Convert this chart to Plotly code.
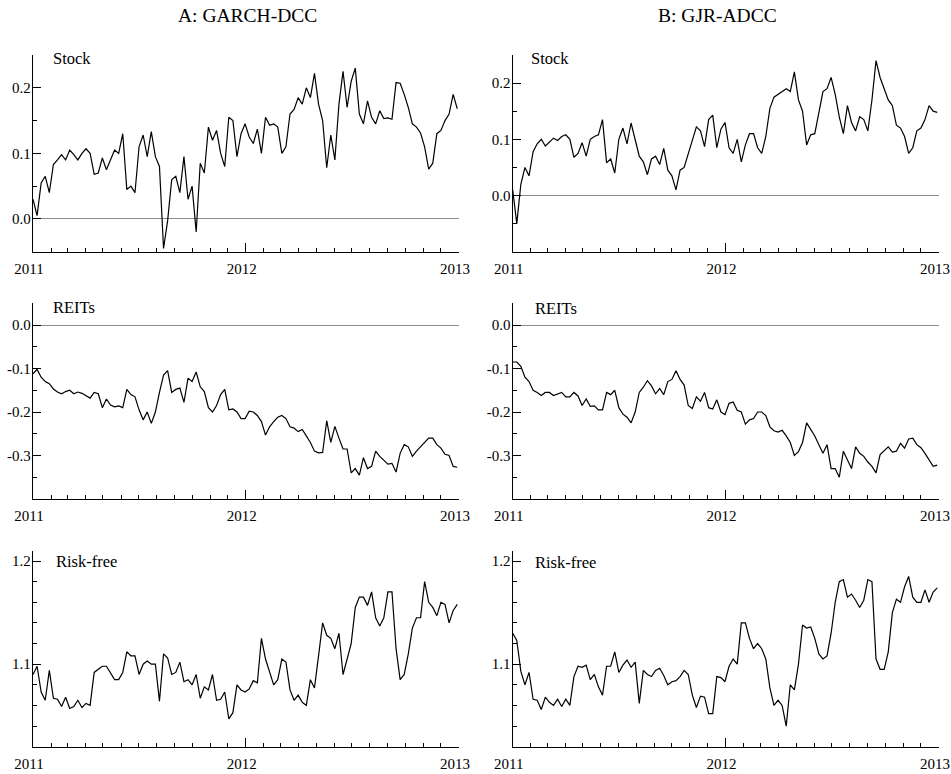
import plotly.graph_objects as go
import pandas as pd

# ---------------- data ----------------
dates = pd.date_range("2011-01-01", periods=105, freq="7D")
year_ticks = ["2011-01-01", "2012-01-01", "2013-01-01"]
year_labels = ["2011", "2012", "2013"]
month_ticks = [d for d in pd.date_range("2011-02-01", "2012-12-01", freq="MS") if d.month != 1]

column_titles = ["A: GARCH-DCC", "B: GJR-ADCC"]
panel_names = ["Stock", "REITs", "Risk-free"]

stock_a = [0.03, 0.005, 0.055, 0.065, 0.04, 0.083, 0.09, 0.098, 0.09, 0.105,
           0.098, 0.09, 0.1, 0.107, 0.1, 0.068, 0.07, 0.093, 0.075, 0.09,
           0.105, 0.1, 0.13, 0.045, 0.05, 0.04, 0.11, 0.128, 0.095, 0.133,
           0.095, 0.08, -0.045, -0.003, 0.06, 0.065, 0.04, 0.095, 0.03, 0.05,
           -0.02, 0.085, 0.07, 0.14, 0.12, 0.135, 0.1, 0.08, 0.155, 0.15,
           0.095, 0.13, 0.145, 0.125, 0.115, 0.137, 0.1, 0.155, 0.143, 0.145,
           0.14, 0.1, 0.11, 0.16, 0.167, 0.185, 0.175, 0.2, 0.185, 0.222,
           0.175, 0.15, 0.078, 0.128, 0.09, 0.175, 0.225, 0.17, 0.21, 0.23,
           0.16, 0.145, 0.18, 0.155, 0.145, 0.165, 0.153, 0.154, 0.152, 0.208,
           0.207, 0.19, 0.17, 0.145, 0.14, 0.131, 0.11, 0.076, 0.085, 0.13,
           0.135, 0.15, 0.16, 0.19, 0.168]

stock_b = [0.01, -0.05, 0.02, 0.05, 0.035, 0.078, 0.092, 0.1, 0.088, 0.095,
           0.102, 0.098, 0.105, 0.108, 0.1, 0.068, 0.075, 0.094, 0.07, 0.1,
           0.105, 0.108, 0.135, 0.058, 0.065, 0.04, 0.1, 0.12, 0.092, 0.129,
           0.1, 0.07, 0.06, 0.037, 0.065, 0.07, 0.055, 0.084, 0.045, 0.035,
           0.01, 0.045, 0.05, 0.075, 0.1, 0.122, 0.115, 0.087, 0.135, 0.143,
           0.085, 0.118, 0.13, 0.085, 0.075, 0.1, 0.06, 0.09, 0.11, 0.11,
           0.085, 0.075, 0.105, 0.155, 0.175, 0.18, 0.185, 0.19, 0.185, 0.22,
           0.17, 0.15, 0.09, 0.108, 0.11, 0.15, 0.185, 0.19, 0.21, 0.18,
           0.14, 0.11, 0.16, 0.13, 0.115, 0.14, 0.135, 0.115, 0.17, 0.24,
           0.21, 0.19, 0.17, 0.16, 0.125, 0.12, 0.105, 0.075, 0.085, 0.115,
           0.12, 0.135, 0.16, 0.15, 0.148]

reits_a = [-0.112, -0.102, -0.12, -0.13, -0.135, -0.147, -0.154, -0.158, -0.153, -0.15,
           -0.158, -0.154, -0.157, -0.163, -0.168, -0.155, -0.158, -0.19, -0.17, -0.184,
           -0.188, -0.186, -0.19, -0.148, -0.16, -0.165, -0.195, -0.218, -0.2, -0.226,
           -0.2, -0.155, -0.115, -0.105, -0.155, -0.148, -0.145, -0.178, -0.122, -0.13,
           -0.108, -0.142, -0.153, -0.19, -0.2, -0.185, -0.16, -0.148, -0.195, -0.193,
           -0.2, -0.215, -0.215, -0.198, -0.2, -0.208, -0.222, -0.253, -0.234, -0.222,
           -0.212, -0.208, -0.215, -0.234, -0.237, -0.245, -0.24, -0.255, -0.27, -0.29,
           -0.294, -0.293, -0.22, -0.27, -0.233, -0.26, -0.285, -0.285, -0.34, -0.33,
           -0.345, -0.305, -0.33, -0.325, -0.29, -0.302, -0.31, -0.32, -0.318, -0.338,
           -0.295, -0.275, -0.28, -0.302, -0.29, -0.28, -0.27, -0.26, -0.26, -0.275,
           -0.283, -0.297, -0.3, -0.325, -0.327]

reits_b = [-0.085, -0.085, -0.095, -0.12, -0.13, -0.15, -0.155, -0.162, -0.155, -0.155,
           -0.162, -0.158, -0.155, -0.165, -0.165, -0.155, -0.163, -0.185, -0.17, -0.187,
           -0.186, -0.195, -0.195, -0.155, -0.16, -0.15, -0.19, -0.205, -0.212, -0.225,
           -0.2, -0.155, -0.143, -0.128, -0.14, -0.158, -0.146, -0.16, -0.13, -0.125,
           -0.105, -0.125, -0.138, -0.185, -0.192, -0.165, -0.175, -0.155, -0.19, -0.193,
           -0.172, -0.2, -0.206, -0.18, -0.177, -0.196, -0.2, -0.228, -0.218, -0.215,
           -0.2, -0.2, -0.208, -0.234, -0.243, -0.246, -0.242, -0.255, -0.27, -0.3,
           -0.291, -0.27, -0.225, -0.24, -0.255, -0.275, -0.295, -0.275, -0.33, -0.33,
           -0.35, -0.29, -0.31, -0.33, -0.28, -0.295, -0.302, -0.315, -0.325, -0.34,
           -0.298, -0.288, -0.28, -0.292, -0.29, -0.272, -0.283, -0.262, -0.26, -0.275,
           -0.282, -0.295, -0.31, -0.325, -0.322]

riskfree_a = [1.09, 1.098, 1.073, 1.065, 1.094, 1.067, 1.066, 1.059, 1.068, 1.057,
              1.059, 1.065, 1.058, 1.062, 1.06, 1.092, 1.095, 1.098, 1.098, 1.092,
              1.085, 1.085, 1.092, 1.112, 1.108, 1.108, 1.09, 1.1, 1.103, 1.1,
              1.1, 1.064, 1.11, 1.106, 1.09, 1.092, 1.102, 1.083, 1.085, 1.08,
              1.09, 1.067, 1.078, 1.075, 1.09, 1.065, 1.066, 1.073, 1.047, 1.053,
              1.08, 1.075, 1.073, 1.076, 1.084, 1.082, 1.125, 1.105, 1.092, 1.08,
              1.085, 1.105, 1.102, 1.075, 1.065, 1.07, 1.063, 1.06, 1.085, 1.077,
              1.108, 1.14, 1.128, 1.125, 1.115, 1.13, 1.09, 1.105, 1.12, 1.155,
              1.165, 1.165, 1.157, 1.17, 1.145, 1.137, 1.145, 1.17, 1.17, 1.115,
              1.085, 1.09, 1.11, 1.135, 1.145, 1.145, 1.18, 1.16, 1.155, 1.147,
              1.16, 1.158, 1.14, 1.152, 1.158]

riskfree_b = [1.13, 1.123, 1.093, 1.08, 1.092, 1.066, 1.065, 1.056, 1.068, 1.063,
              1.06, 1.066, 1.059, 1.066, 1.06, 1.088, 1.098, 1.097, 1.099, 1.085,
              1.09, 1.078, 1.07, 1.098, 1.098, 1.112, 1.092, 1.099, 1.104, 1.097,
              1.102, 1.062, 1.094, 1.09, 1.088, 1.094, 1.096, 1.089, 1.08, 1.083,
              1.084, 1.088, 1.094, 1.09, 1.07, 1.058, 1.069, 1.068, 1.052, 1.052,
              1.088, 1.087, 1.083, 1.098, 1.105, 1.1, 1.14, 1.14, 1.125, 1.115,
              1.12, 1.115, 1.105, 1.077, 1.06, 1.065, 1.06, 1.04, 1.08, 1.075,
              1.1, 1.138, 1.135, 1.136, 1.125, 1.11, 1.105, 1.108, 1.13, 1.16,
              1.18, 1.182, 1.165, 1.168, 1.162, 1.155, 1.162, 1.182, 1.18, 1.105,
              1.095, 1.095, 1.112, 1.15, 1.163, 1.16, 1.175, 1.185, 1.165, 1.16,
              1.16, 1.172, 1.16, 1.17, 1.174]

stock_ticks = [0.0, 0.1, 0.2]
stock_labels = ["0.0", "0.1", "0.2"]
stock_minor = [-0.05, 0.05, 0.15, 0.25]
reits_ticks = [0.0, -0.1, -0.2, -0.3]
reits_labels = ["0.0", "-0.1", "-0.2", "-0.3"]
reits_minor = [0.05, -0.05, -0.15, -0.25, -0.35]
rf_ticks = [1.1, 1.2]
rf_labels = ["1.1", "1.2"]
rf_minor = [1.04, 1.06, 1.08, 1.12, 1.14, 1.16, 1.18]

# ---------------- layout geometry (page pixels) ----------------
W, H = 951, 774


def px_x(v):
    return v / W


def px_y(v):
    return 1 - v / H


col_px = [(33, 459), (512.7, 939)]
row_px = [(55, 251.7), (303.3, 499), (550.7, 746.7)]
yranges = [[(-0.05, 0.25), (-0.1, 0.25)],
           [(-0.4, 0.05), (-0.4, 0.05)],
           [(1.02, 1.21), (1.02, 1.21)]]
series = [[stock_a, stock_b], [reits_a, reits_b], [riskfree_a, riskfree_b]]
ytick_sets = [(stock_ticks, stock_labels, stock_minor),
              (reits_ticks, reits_labels, reits_minor),
              (rf_ticks, rf_labels, rf_minor)]
label_pos = [[(50.7, 58), (529.3, 59)],
             [(50.7, 307), (533.3, 308)],
             [(54, 561), (532.7, 562)]]

FONT = "Liberation Serif, Times New Roman, serif"

fig = go.Figure()
layout = dict(width=W, height=H, margin=dict(l=0, r=0, t=0, b=0, pad=0, autoexpand=False),
              paper_bgcolor="white", plot_bgcolor="white", showlegend=False,
              font=dict(family=FONT, size=15, color="black"))
annotations = []

idx = 0
for r in range(3):
    for c in range(2):
        idx += 1
        xa = "xaxis" if idx == 1 else f"xaxis{idx}"
        ya = "yaxis" if idx == 1 else f"yaxis{idx}"
        xr = "x" if idx == 1 else f"x{idx}"
        yr = "y" if idx == 1 else f"y{idx}"
        fig.add_trace(go.Scatter(x=dates, y=series[r][c], mode="lines",
                                 line=dict(color="black", width=1.2),
                                 xaxis=xr, yaxis=yr, hoverinfo="skip"))
        x0, x1 = col_px[c]
        y0, y1 = row_px[r]
        layout[xa] = dict(domain=[px_x(x0), px_x(x1)], anchor=yr, type="date",
                          range=["2011-01-01", "2013-01-01"], automargin=False,
                          tickmode="array", tickvals=year_ticks, ticktext=year_labels,
                          ticks="inside", ticklen=9, tickwidth=1, tickcolor="black",
                          minor=dict(tickvals=month_ticks, ticks="inside", ticklen=4,
                                     tickwidth=1, tickcolor="black", showgrid=False),
                          showline=True, linecolor="black", linewidth=1.3,
                          showgrid=False, zeroline=False, ticklabelstandoff=3,
                          ticklabelshift=-4, ticklabeloverflow="allow",
                          tickfont=dict(family=FONT, size=15, color="black"))
        tv, tt, tm = ytick_sets[r]
        layout[ya] = dict(domain=[px_y(y1), px_y(y0)], anchor=xr,
                          range=list(yranges[r][c]), automargin=False,
                          tickmode="array", tickvals=tv, ticktext=tt,
                          ticks="inside", ticklen=8, tickwidth=1, tickcolor="black",
                          minor=dict(tickvals=tm, ticks="inside", ticklen=4,
                                     tickwidth=1, tickcolor="black", showgrid=False),
                          showline=True, linecolor="black", linewidth=1.3,
                          showgrid=False, zeroline=(r < 2), zerolinecolor="#8c8c8c",
                          zerolinewidth=1, ticklabelstandoff=-2,
                          ticklabeloverflow="allow",
                          tickfont=dict(family=FONT, size=15, color="black"))
        lx, ly = label_pos[r][c]
        annotations.append(dict(text=panel_names[r], x=px_x(lx), y=px_y(ly),
                                xref="paper", yref="paper", xanchor="left",
                                yanchor="middle", showarrow=False,
                                font=dict(family=FONT, size=16.5, color="black")))

annotations.append(dict(text=column_titles[0], x=px_x(247), y=px_y(15), xref="paper",
                        yref="paper", xanchor="center", yanchor="middle", showarrow=False,
                        font=dict(family=FONT, size=19.5, color="black")))
annotations.append(dict(text=column_titles[1], x=px_x(717), y=px_y(15), xref="paper",
                        yref="paper", xanchor="center", yanchor="middle", showarrow=False,
                        font=dict(family=FONT, size=19.5, color="black")))
layout["annotations"] = annotations
fig.update_layout(**layout)
fig.write_html("out.html", config={"displayModeBar": False},
               post_script="document.body.style.margin='0';")
